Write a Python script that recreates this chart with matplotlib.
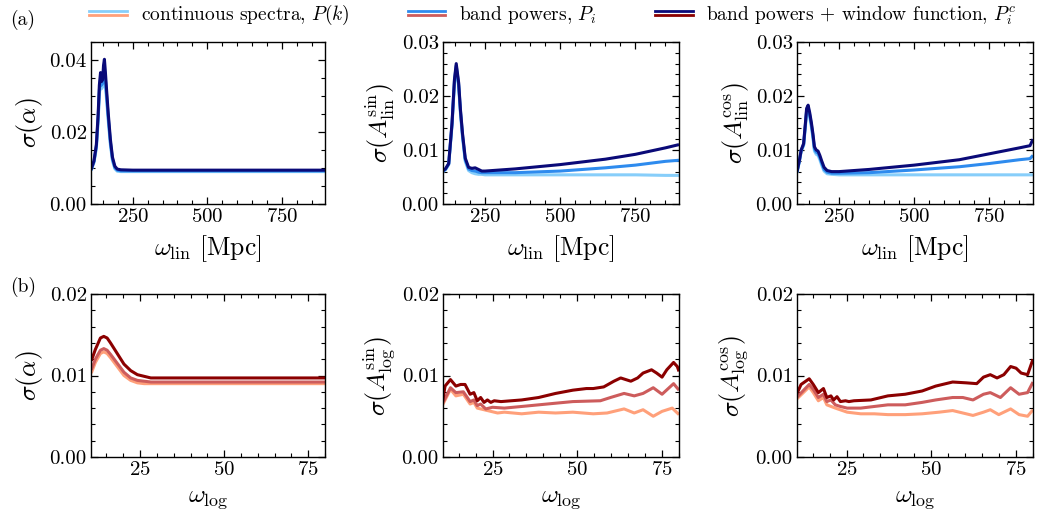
import matplotlib
matplotlib.use("Agg")
import matplotlib.pyplot as plt
from matplotlib.lines import Line2D
from matplotlib.legend_handler import HandlerBase
from matplotlib.ticker import AutoMinorLocator, FormatStrFormatter, MultipleLocator

plt.rcParams.update({
    "font.family": "serif",
    "font.serif": ["cmr10"],
    "mathtext.fontset": "cm",
    "axes.formatter.use_mathtext": True,
    "axes.unicode_minus": False,
})

# ---------------- data: top row (omega_lin) ----------------
tl_x = [110, 120, 128, 134, 138, 142, 145, 149, 152, 155, 158, 162, 168, 175, 182, 190, 198, 210, 250, 400, 600, 800, 895]
tl_cont = [0.0093, 0.0115, 0.0155, 0.0232, 0.0305, 0.0335, 0.0320, 0.0325, 0.0340, 0.0345, 0.0330, 0.0292, 0.0230, 0.0165, 0.0120, 0.0098, 0.0091, 0.0090, 0.0090, 0.0090, 0.0090, 0.0090, 0.0090]
tl_band = [0.0094, 0.0118, 0.0160, 0.0240, 0.0315, 0.0350, 0.0330, 0.0335, 0.0360, 0.0370, 0.0350, 0.0305, 0.0240, 0.0172, 0.0125, 0.0101, 0.0094, 0.0092, 0.0092, 0.0092, 0.0092, 0.0092, 0.0092]
tl_win = [0.0095, 0.0120, 0.0165, 0.0250, 0.0330, 0.0365, 0.0340, 0.0345, 0.0385, 0.0402, 0.0370, 0.0320, 0.0250, 0.0180, 0.0130, 0.0105, 0.0097, 0.0095, 0.0094, 0.0094, 0.0094, 0.0094, 0.0094]

tm_x = [110, 118, 129, 140, 148, 154, 162, 168, 175, 184, 195, 206, 217, 228, 239, 250, 350, 500, 650, 750, 850, 895]
tm_cont = [0.0060, 0.0063, 0.0073, 0.0145, 0.0222, 0.0250, 0.0218, 0.0168, 0.0123, 0.0079, 0.0062, 0.0058, 0.0056, 0.0055, 0.0055, 0.0054, 0.0054, 0.0054, 0.0054, 0.0054, 0.0053, 0.0053]
tm_band = [0.0061, 0.0064, 0.0074, 0.0148, 0.0227, 0.0256, 0.0222, 0.0172, 0.0127, 0.0082, 0.0065, 0.0062, 0.0061, 0.0059, 0.0058, 0.0058, 0.0058, 0.0061, 0.0067, 0.0072, 0.0079, 0.0081]
tm_win = [0.0062, 0.0065, 0.0075, 0.0150, 0.0230, 0.0260, 0.0225, 0.0175, 0.0130, 0.0085, 0.0068, 0.0066, 0.0067, 0.0064, 0.0061, 0.0061, 0.0065, 0.0073, 0.0083, 0.0092, 0.0104, 0.0110]

tr_x = [110, 118, 124, 132, 138, 142, 147, 152, 158, 163, 168, 174, 180, 186, 192, 200, 210, 225, 250, 350, 500, 650, 750, 850, 885, 895]
tr_cont = [0.0058, 0.0079, 0.0098, 0.0108, 0.0144, 0.0170, 0.0174, 0.0162, 0.0142, 0.0122, 0.0098, 0.0092, 0.0090, 0.0082, 0.0072, 0.0061, 0.0056, 0.0055, 0.0054, 0.0054, 0.0054, 0.0054, 0.0054, 0.0054, 0.0054, 0.0054]
tr_band = [0.0059, 0.0080, 0.0099, 0.0110, 0.0147, 0.0173, 0.0178, 0.0166, 0.0146, 0.0126, 0.0102, 0.0096, 0.0094, 0.0086, 0.0076, 0.0064, 0.0059, 0.0057, 0.0057, 0.0058, 0.0063, 0.0069, 0.0075, 0.0082, 0.0084, 0.0090]
tr_win = [0.0060, 0.0081, 0.0100, 0.0112, 0.0150, 0.0177, 0.0183, 0.0170, 0.0150, 0.0130, 0.0106, 0.0100, 0.0098, 0.0090, 0.0080, 0.0068, 0.0062, 0.0060, 0.0060, 0.0064, 0.0072, 0.0082, 0.0093, 0.0104, 0.0108, 0.0120]

# ---------------- data: bottom row (omega_log) ----------------
bl_x = [10.5, 11.7, 13.2, 14.2, 15.2, 16.2, 18.2, 20.2, 22.2, 24.2, 26.2, 28.2, 32, 40, 50, 60, 70, 80]
bl_cont = [0.0103, 0.0116, 0.0127, 0.0129, 0.0127, 0.0122, 0.0111, 0.0100, 0.0094, 0.0091, 0.0090, 0.0090, 0.0090, 0.0090, 0.0090, 0.0090, 0.0090, 0.0090]
bl_band = [0.0107, 0.0120, 0.0131, 0.0133, 0.0131, 0.0126, 0.0115, 0.0104, 0.0097, 0.0094, 0.0093, 0.0092, 0.0092, 0.0092, 0.0092, 0.0092, 0.0092, 0.0092]
bl_win = [0.0118, 0.0132, 0.0146, 0.0148, 0.0146, 0.0140, 0.0127, 0.0114, 0.0106, 0.0101, 0.0099, 0.0097, 0.0097, 0.0097, 0.0097, 0.0097, 0.0097, 0.0097]

bm_cont_x = [10.3, 12.6, 14.2, 16.4, 18.4, 19.5, 20.5, 22.5, 24.5, 26.5, 28.5, 33.6, 38.6, 43.6, 48.7, 54.7, 58.8, 63.8, 66.8, 69.4, 72.4, 75.0, 78.0, 80]
bm_cont = [0.0064, 0.0083, 0.0075, 0.0077, 0.0065, 0.0067, 0.0060, 0.0058, 0.0056, 0.0054, 0.0055, 0.0053, 0.0055, 0.0054, 0.0055, 0.0053, 0.0054, 0.0059, 0.0054, 0.0058, 0.0050, 0.0056, 0.0060, 0.0052]
bm_band_x = [10.3, 12.6, 14.2, 16.4, 18.4, 19.5, 20.5, 21.5, 23.0, 25, 28.5, 33.6, 38.6, 43.6, 48.7, 56.8, 59.8, 63.8, 66.8, 69.4, 72.4, 75.0, 78.4, 80]
bm_band = [0.0066, 0.0085, 0.0079, 0.0080, 0.0068, 0.0070, 0.0063, 0.0065, 0.0059, 0.0061, 0.0060, 0.0062, 0.0064, 0.0066, 0.0068, 0.0069, 0.0073, 0.0078, 0.0075, 0.0078, 0.0085, 0.0077, 0.0090, 0.0082]
bm_win_x = [10.3, 11.0, 12.6, 14.2, 15.6, 16.9, 18.4, 19.5, 20.5, 21.5, 22.5, 23.5, 24.5, 25.5, 27.5, 33.6, 38.6, 43.6, 48.7, 52.7, 54.7, 57.8, 60.8, 62.8, 64.3, 65.8, 67.8, 69.4, 71.9, 73.4, 75.0, 76.4, 78.4, 79.5, 80]
bm_win = [0.0068, 0.0087, 0.0095, 0.0087, 0.0089, 0.0089, 0.0077, 0.0079, 0.0069, 0.0073, 0.0067, 0.0070, 0.0067, 0.0069, 0.0068, 0.0070, 0.0073, 0.0078, 0.0082, 0.0084, 0.0084, 0.0086, 0.0093, 0.0097, 0.0095, 0.0093, 0.0097, 0.0103, 0.0107, 0.0103, 0.0098, 0.0107, 0.0116, 0.0111, 0.0105]

br_cont_x = [10.3, 14.0, 15.2, 16.7, 18.2, 19.2, 21.7, 25.2, 29.2, 33.2, 37.2, 42.3, 47.3, 52.3, 56.3, 59.3, 62.3, 65.4, 67.4, 69.9, 73.4, 75.9, 78.4, 80]
br_cont = [0.0071, 0.0086, 0.0079, 0.0069, 0.0073, 0.0064, 0.0060, 0.0055, 0.0053, 0.0053, 0.0052, 0.0052, 0.0053, 0.0055, 0.0057, 0.0054, 0.0051, 0.0055, 0.0058, 0.0052, 0.0059, 0.0052, 0.0050, 0.0058]
br_band_x = [10.3, 14.0, 15.2, 16.7, 18.2, 19.2, 20.4, 21.7, 23.2, 25.2, 29.2, 33.2, 37.2, 42.3, 47.3, 51.3, 56.3, 59.3, 62.3, 65.4, 67.4, 70.4, 73.4, 75.9, 78.4, 80]
br_band = [0.0073, 0.0089, 0.0083, 0.0073, 0.0077, 0.0068, 0.0070, 0.0064, 0.0062, 0.0060, 0.0060, 0.0062, 0.0064, 0.0064, 0.0067, 0.0070, 0.0073, 0.0073, 0.0070, 0.0077, 0.0079, 0.0073, 0.0085, 0.0077, 0.0079, 0.0092]
br_win_x = [10.3, 11.6, 14.0, 15.2, 16.7, 18.2, 19.2, 20.4, 21.2, 22.2, 23.2, 24.7, 25.7, 27.2, 32.2, 37.2, 42.3, 47.3, 51.3, 53.3, 56.3, 60.3, 63.4, 65.4, 67.4, 69.4, 71.4, 73.4, 75.0, 76.5, 78.4, 80]
br_win = [0.0077, 0.0089, 0.0096, 0.0089, 0.0079, 0.0084, 0.0073, 0.0075, 0.0070, 0.0074, 0.0068, 0.0069, 0.0068, 0.0069, 0.0070, 0.0075, 0.0077, 0.0081, 0.0087, 0.0089, 0.0092, 0.0091, 0.0090, 0.0098, 0.0101, 0.0097, 0.0101, 0.0111, 0.0109, 0.0103, 0.0101, 0.0120]

legend_labels = [r"continuous spectra, $P(k)$", r"band powers, $P_i$",
                 r"band powers + window function, $P_i^c$"]
top_ylabels = [r"$\sigma(\alpha)$", r"$\sigma(A_{\rm lin}^{\rm sin})$", r"$\sigma(A_{\rm lin}^{\rm cos})$"]
bot_ylabels = [r"$\sigma(\alpha)$", r"$\sigma(A_{\rm log}^{\rm sin})$", r"$\sigma(A_{\rm log}^{\rm cos})$"]

blues = ["#87CEFA", "#2E8BEE", "#0A0A78"]
reds = ["#FFA07A", "#CD5C5C", "#8B0000"]
LW = 2.2

fig = plt.figure(figsize=(10.42, 5.11), dpi=100)
W, H = 1042, 511
cols = [(91, 325), (443, 679), (797, 1033)]
rows = [(42, 204), (294, 457)]
axes = [[None] * 3 for _ in range(2)]
for r, (t, b) in enumerate(rows):
    for c, (l, rr) in enumerate(cols):
        axes[r][c] = fig.add_axes([l / W, 1 - b / H, (rr - l) / W, (b - t) / H])

top_data = [
    ([tl_x] * 3, [tl_cont, tl_band, tl_win]),
    ([tm_x] * 3, [tm_cont, tm_band, tm_win]),
    ([tr_x] * 3, [tr_cont, tr_band, tr_win]),
]
bot_data = [
    ([bl_x] * 3, [bl_cont, bl_band, bl_win]),
    ([bm_cont_x, bm_band_x, bm_win_x], [bm_cont, bm_band, bm_win]),
    ([br_cont_x, br_band_x, br_win_x], [br_cont, br_band, br_win]),
]
top_ylims = [0.045, 0.03, 0.03]
top_ymaj = [0.02, 0.01, 0.01]


def style(ax):
    ax.tick_params(which="both", direction="in", top=True, right=True, labelsize=15, pad=3)
    ax.tick_params(which="major", length=5, width=0.9)
    ax.tick_params(which="minor", length=3, width=0.8)
    for s in ax.spines.values():
        s.set_linewidth(1.0)
    ax.xaxis.set_minor_locator(AutoMinorLocator(5))
    ax.yaxis.set_minor_locator(AutoMinorLocator())
    ax.yaxis.set_major_formatter(FormatStrFormatter("%.2f"))


for c in range(3):
    ax = axes[0][c]
    xs, ys = top_data[c]
    for x, y, col in zip(xs, ys, blues):
        ax.plot(x, y, color=col, lw=LW, solid_capstyle="butt")
    ax.set_xlim(110, 895)
    ax.set_ylim(0, top_ylims[c])
    ax.xaxis.set_major_locator(MultipleLocator(250))
    ax.yaxis.set_major_locator(MultipleLocator(top_ymaj[c]))
    style(ax)
    ax.set_xlabel(r"$\omega_{\rm lin}\ [{\rm Mpc}]$", fontsize=18.5, labelpad=5)
    ax.set_ylabel(top_ylabels[c], fontsize=18.5, labelpad=3)

    ax = axes[1][c]
    xs, ys = bot_data[c]
    for x, y, col in zip(xs, ys, reds):
        ax.plot(x, y, color=col, lw=LW, solid_capstyle="butt")
    ax.set_xlim(10.4, 80)
    ax.set_ylim(0, 0.02)
    ax.xaxis.set_major_locator(MultipleLocator(25))
    ax.yaxis.set_major_locator(MultipleLocator(0.01))
    style(ax)
    ax.set_xlabel(r"$\omega_{\rm log}$", fontsize=18.5, labelpad=5.5)
    ax.set_ylabel(bot_ylabels[c], fontsize=18.5, labelpad=3)

fig.text(10 / W, 1 - 20 / H, "(a)", fontsize=14, va="center", ha="left")
fig.text(10 / W, 1 - 287 / H, "(b)", fontsize=14, va="center", ha="left")


class Pair:
    def __init__(self, top, bottom):
        self.top = top
        self.bottom = bottom


class PairHandler(HandlerBase):
    def create_artists(self, legend, orig_handle, xdescent, ydescent, width, height, fontsize, trans):
        yc = height / 2 - ydescent
        off = 0.15 * height
        l1 = Line2D([-xdescent, width - xdescent], [yc + off, yc + off], color=orig_handle.top, lw=2.0, transform=trans)
        l2 = Line2D([-xdescent, width - xdescent], [yc - off, yc - off], color=orig_handle.bottom, lw=2.0, transform=trans)
        return [l1, l2]


handles = [Pair(blues[i], reds[i]) for i in range(3)]
fig.legend(handles, legend_labels, handler_map={Pair: PairHandler()},
           loc="center left", bbox_to_anchor=(89 / W, 1 - 15 / H), ncol=3,
           frameon=False, fontsize=14, handlelength=1.95, handletextpad=0.7,
           columnspacing=3.0, borderpad=0, borderaxespad=0)

fig.savefig("out.png", dpi=100)
